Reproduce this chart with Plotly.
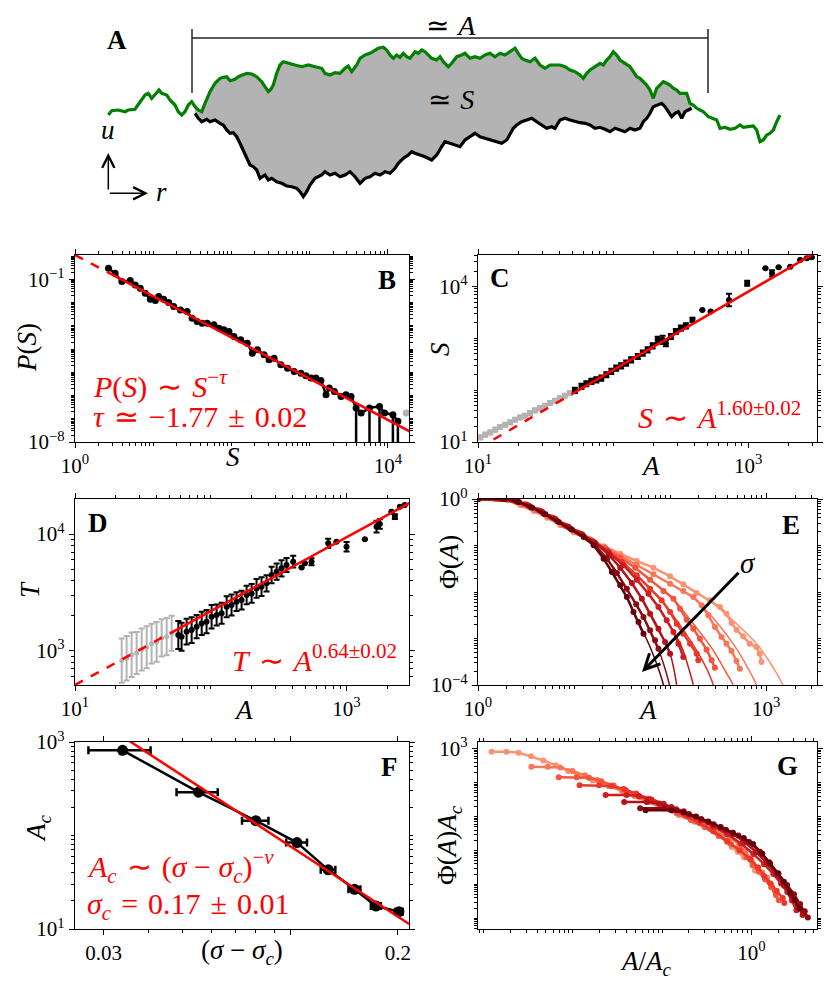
import math
import numpy as np
import plotly.graph_objects as go

W, H = 831, 993
FONT = "Liberation Serif"

# ---------------- Panel A : interface profiles (read in picture units) ----------------
green_x = [108.3,111.7,118.3,125,128.3,135,136.7,140,145,148.3,151.7,156.7,159,161.7,166.7,170,175,178.3,181.7,185,188.3,191.7,195,198.3,201.7,205,210,215,220,223.3,226.7,230,235,238.3,241.7,246.7,251.7,256.7,261.7,265,268.3,271,273.3,276.7,280,283.3,288.3,295,301.7,308.3,315,321.7,
           325,330,335,340,345,348.3,351.7,356.7,360,365,370,375,378.3,383.3,386.7,390,393.3,396.7,400,403.3,406.7,410,415,418.3,421.7,425,428.3,431.7,436.7,440,443.3,448.3,451.7,456.7,461.7,465,470,475,480,485,490,495,500,505,510,515,518.3,521.7,525,530,535,540,545,550,
           555,560,565,570,575,580,583.3,586.7,590,595,600,603.3,606.7,610,613.3,616.7,620,625,630,633.3,636.7,640,643.3,646.7,650,653.3,656.7,660,663.3,666.7,670,673.3,676.7,680,683.3,686.7,688.3,690,693.3,696.7,700,703.3,708.3,713.3,716.7,720,725,730,735,740,743.3,748.3,753.3,756.7,760,763.3,766.7,770,773.3,776.7,780]
green_y = [115,110.7,110,111.7,110,109.3,106.7,101.7,95,93.3,98.3,92.7,90,93.3,95,100,105,111.7,115,111.7,105,101.7,106.7,110,111.7,103.3,91.7,83.3,78.3,77.3,76.7,80.7,79.3,76.7,75,73.3,74,76.7,81.7,86.7,91.7,89.3,85,73.3,65,61.7,63.3,65,66.7,65,66.7,68.3,
           73.3,75,72.7,73.3,68.3,66,71.7,65,58.3,55,53.3,50,48.3,47.3,50,55,58.3,55,57.3,53.3,56.7,58.3,51.7,53.3,50,51.7,55,58.3,60,56.7,61.7,66.7,63.3,56.7,55,53.3,58.3,56.7,58.3,55,53.3,56.7,53.3,55,51.7,48.3,53.3,58.3,60,61.7,58.3,65,68.3,65,
           65,65,66.7,70,71.7,75,78.3,73.3,70,66.7,63.3,65,60,56.7,51.7,55,60,63.3,66.7,71.7,76.7,78.3,81.7,85,90,98.3,88.3,85,81.7,83.3,85,88.3,90,93.3,93.3,93.3,98.3,103.3,105,108.3,110,111.7,116.7,118.3,120,128.3,127.3,129.3,128.3,125,127.3,126.7,126,130,141.7,140,135,133.3,130,121.7,115]
black_x = [195,198.3,201.7,206.7,210,215,220,223.3,226.7,230,233.3,236.7,240,243.3,246.7,250,253.3,256.7,260,265,268.3,271.7,276.7,281.7,286.7,291.7,296.7,300,303.3,306.7,310,315,321.7,
           325,330,335,340,345,350,355,360,365,370,375,380,385,390,395,398.3,403.3,408.3,411.7,415,420,425,431.7,436.7,441.7,445,450,455,460,465,470,475,480,485,490,495,501.7,506.7,510,513.3,516.7,521.7,526.7,531.7,536.7,541.7,546.7,551.7,
           555,560,565,570,575,580,585,590,595,600,605,610,615,620,625,630,635,640,643.3,646.7,650,653.3,656.7,661.7,665,668.3,671.7,675,678.3,681.7,685,688.3,691.7]
black_y = [113.3,118.3,121.7,119.3,121.7,120,123.3,125,130,133.3,132.7,136.7,143.3,150,158.3,165,166.7,170,178.3,175,180,178.3,181.7,183.3,186,186.7,188.3,191.7,196.7,191.7,185,178.3,175,
           171.7,175,173.3,176.7,175,171.7,176.7,183.3,178.3,176.7,173.3,175,171.7,173.3,168.3,163.3,158.3,155,151.7,153.3,155,156.7,160,155,146.7,141.7,143.3,145,146.7,140,136.7,133.3,136.7,138.3,140,141.7,143.3,140,133.3,128.3,125,121.7,120,118.3,121.7,125,128.3,126.7,
           128.3,120,118.3,120,121.7,122.7,123.3,125,128.3,127.3,129.3,131.7,128.3,130,131.7,128.3,130,128.3,121.7,118.3,113.3,106.7,105,103.3,106.7,111.7,116.7,113.3,111.7,118.3,111.7,110,108.3]
bracket_x = [192, 708]
bracket_y = [29, 38, 93]   # top of ends, bar level, bottom of ends

# ---------------- Panel B : P(S) ----------------
b_logS = [0.428,0.513,0.599,0.706,0.770,0.834,0.898,0.963,1.027,1.070,1.134,1.198,1.262,1.348,1.433,1.497,1.561,1.626,1.690,1.775,1.840,1.904,1.968,2.032,2.118,2.203,2.267,2.332,2.417,2.481,2.545,2.631,2.717,2.802,2.888,2.952,3.016,3.080,3.144,3.209,3.251,3.316,3.401,3.465,3.529,3.594,3.658,3.765,3.893,3.957,4.064,4.128]
b_logP = [-0.528,-0.742,-1.100,-1.057,-1.243,-1.386,-1.601,-1.859,-1.916,-1.744,-1.859,-2.002,-2.174,-2.317,-2.389,-2.675,-2.818,-2.889,-2.889,-2.961,-3.104,-3.176,-3.247,-3.462,-3.605,-3.748,-4.178,-4.035,-4.249,-4.464,-4.392,-4.679,-4.822,-4.965,-5.037,-5.151,-5.251,-5.251,-5.352,-5.967,-5.681,-5.824,-6.039,-5.967,-6.039,-6.540,-6.754,-6.540,-6.468,-6.754,-6.826,-7.112]
b_err_dex = [0]*45 + [4,0,4,4,0,4,4]
b_gray_logS = [4.235]
b_gray_logP = [-6.754]
b_fit_logamp, b_tau = 0.045, 1.773

# ---------------- Panel C : S vs A ----------------
c_logA = [1.717,1.766,1.802,1.839,1.876,1.913,1.950,1.987,2.023,2.060,2.097,2.134,2.183,2.220,2.256,2.293,2.330,2.367,2.391,2.428,2.465,2.502,2.539,2.588,2.661,2.723,2.858,2.993,3.128,3.177,3.226,3.312,3.385,3.434,3.471]
c_logS = [1.996,2.073,2.124,2.169,2.201,2.233,2.298,2.362,2.426,2.471,2.522,2.587,2.651,2.715,2.779,2.857,2.972,2.972,2.908,3.036,3.133,3.197,3.242,3.358,3.550,3.518,3.743,4.064,4.353,4.257,4.373,4.385,4.514,4.546,4.565]
c_err_dex = [0.05]*16 + [0.06,0.08,0.06,0.05,0.05,0.05,0.05,0.04,0,0,0.12,0.05,0,0.06,0,0,0,0,0]
c_gray_logA = [1.017,1.054,1.091,1.128,1.164,1.201,1.238,1.275,1.312,1.348,1.385,1.422,1.459,1.496,1.533,1.570,1.606,1.643,1.680]
c_gray_logS = [1.090,1.141,1.186,1.238,1.289,1.334,1.379,1.430,1.475,1.507,1.559,1.610,1.655,1.700,1.752,1.797,1.848,1.893,1.944]
c_gray_err_dex = [0.04]*19
c_fit_logamp, c_exp = -0.639, 1.513

# ---------------- Panel D : T vs A ----------------
d_logA = [1.761,1.785,1.822,1.859,1.896,1.933,1.969,2.006,2.043,2.080,2.117,2.153,2.190,2.227,2.264,2.301,2.337,2.374,2.411,2.448,2.485,2.521,2.558,2.607,2.669,2.693,2.742,2.865,2.926,3.000,3.135,3.221,3.245,3.331,3.356,3.393,3.429]
d_logT = [3.134,3.120,3.163,3.177,3.206,3.234,3.249,3.291,3.306,3.320,3.377,3.391,3.420,3.434,3.477,3.491,3.534,3.549,3.577,3.649,3.677,3.706,3.734,3.763,3.714,3.749,3.763,3.920,3.934,3.891,3.954,4.063,4.086,4.191,4.149,4.234,4.249]
d_err_dex = [0.12,0.12,0.11,0.11,0.10,0.10,0.10,0.10,0.09,0.09,0.09,0.09,0.08,0.08,0.08,0.08,0.08,0.08,0.07,0.07,0.07,0.07,0.06,0.05,0,0,0.03,0.04,0,0.04,0,0.05,0.04,0,0.02,0,0]
d_gray_logA = [1.344,1.380,1.417,1.454,1.491,1.528,1.564,1.601,1.638,1.675,1.712]
d_gray_logT = [2.915,2.935,2.965,2.980,3.010,3.030,3.060,3.075,3.110,3.120,3.150]
d_gray_err_dex = [0.19,0.19,0.19,0.18,0.18,0.18,0.17,0.17,0.16,0.16,0.15]
d_fit_logamp, d_exp = 2.073, 0.633

# ---------------- Panel E : Phi(A) for increasing sigma ----------------
e_logA = [
    [0,0.166,0.305,0.443,0.581,0.720,0.858,0.997,1.135,1.308,1.481,1.654,1.827,2.000,2.138,2.277,2.415,2.519,2.588,2.640,2.692,2.761,2.830,2.900,2.934,2.952],
    [0,0.183,0.322,0.460,0.599,0.737,0.875,1.014,1.152,1.308,1.481,1.654,1.827,2.000,2.138,2.242,2.329,2.398,2.467,2.536,2.588,2.640,2.692,2.727],
    [0,0.201,0.339,0.478,0.616,0.754,0.893,1.031,1.170,1.325,1.481,1.637,1.792,1.931,2.035,2.104,2.173,2.242,2.311,2.381,2.433,2.467],
    [0,0.218,0.356,0.495,0.633,0.772,0.910,1.048,1.187,1.343,1.498,1.654,1.792,1.913,2.000,2.069,2.138,2.208,2.277,2.294],
    [0,0.235,0.374,0.512,0.651,0.789,0.927,1.066,1.204,1.360,1.516,1.654,1.775,1.879,1.965,2.035,2.087,2.138],
    [0,0.253,0.391,0.529,0.668,0.806,0.945,1.083,1.221,1.360,1.481,1.602,1.706,1.792,1.879,1.948,2.000],
    [0,0.270,0.408,0.547,0.685,0.824,0.962,1.100,1.221,1.343,1.446,1.550,1.647,1.723,1.792,1.844,1.879],
    [0,0.287,0.426,0.564,0.702,0.841,0.979,1.100,1.204,1.308,1.394,1.481,1.550,1.619,1.671,1.723],
]
e_logPhi = [
    [0,0,-0.029,-0.136,-0.258,-0.401,-0.566,-0.717,-0.846,-1.018,-1.176,-1.333,-1.477,-1.663,-1.835,-2.022,-2.179,-2.323,-2.466,-2.667,-2.810,-2.953,-3.111,-3.183,-3.326,-3.505],
    [0,0,-0.022,-0.122,-0.244,-0.387,-0.552,-0.703,-0.860,-1.032,-1.219,-1.419,-1.620,-1.821,-1.978,-2.108,-2.287,-2.502,-2.753,-2.968,-3.111,-3.269,-3.484,-3.649],
    [0,0,-0.014,-0.115,-0.244,-0.387,-0.559,-0.717,-0.875,-1.061,-1.262,-1.477,-1.735,-1.978,-2.143,-2.358,-2.595,-2.789,-3.004,-3.240,-3.470,-3.627],
    [0,0,-0.022,-0.115,-0.244,-0.401,-0.573,-0.731,-0.896,-1.104,-1.355,-1.642,-1.928,-2.179,-2.430,-2.681,-2.896,-3.111,-3.326,-3.470],
    [0,0,-0.029,-0.129,-0.258,-0.416,-0.588,-0.746,-0.918,-1.147,-1.427,-1.735,-2.036,-2.323,-2.609,-2.860,-3.111,-3.398],
    [0,0,-0.043,-0.143,-0.272,-0.430,-0.602,-0.760,-0.946,-1.190,-1.477,-1.806,-2.143,-2.466,-2.789,-3.075,-3.326],
    [0,0,-0.057,-0.172,-0.315,-0.473,-0.638,-0.803,-0.996,-1.283,-1.591,-1.928,-2.265,-2.538,-2.824,-3.039,-3.219],
    [0,0,-0.065,-0.186,-0.330,-0.495,-0.660,-0.817,-0.996,-1.283,-1.570,-1.857,-2.108,-2.430,-2.645,-2.896],
]
e_fit_logA = [
    [2.415,2.692,2.900,3.038,3.176,3.228],
    [2.242,2.484,2.692,2.813,2.900,2.934],
    [2.035,2.242,2.450,2.571,2.657,2.692],
    [1.913,2.104,2.277,2.381,2.450,2.478],
    [1.775,1.965,2.121,2.190,2.242,2.266],
    [1.706,1.879,2.000,2.042,2.069,2.087],
    [1.647,1.792,1.896,1.958,1.993,2.010],
    [1.550,1.671,1.792,1.879,1.931,1.948],
]
e_fit_logPhi = [
    [-2.179,-2.681,-3.111,-3.505,-4.0,-4.258],
    [-2.108,-2.645,-3.219,-3.649,-4.0,-4.258],
    [-2.143,-2.681,-3.254,-3.685,-4.0,-4.258],
    [-2.179,-2.717,-3.254,-3.649,-4.0,-4.258],
    [-2.036,-2.609,-3.183,-3.613,-4.0,-4.258],
    [-2.143,-2.789,-3.326,-3.685,-4.0,-4.258],
    [-2.265,-2.824,-3.326,-3.720,-4.0,-4.258],
    [-2.108,-2.645,-3.183,-3.649,-4.0,-4.258],
]
sigma_colors = ["#fc9272", "#fb7656", "#f5553c", "#e8382a", "#cf1c1f", "#b31218", "#8d0b12", "#67000d"]

# ---------------- Panel F : A_c vs (sigma - sigma_c) ----------------
f_dsigma = [0.0339, 0.0553, 0.0800, 0.1043, 0.1276, 0.1512, 0.1736, 0.2013]
f_Ac = [815, 291, 144, 84, 42.9, 26.6, 17.6, 15.3]
f_xerr = [0.0067, 0.0073, 0.0068, 0.0070, 0.0060, 0.0058, 0.0056, 0.0050]
f_fit_logamp, f_nu = -0.616, 2.5

# ---------------- layout geometry (pixels) ----------------
COLX = {"L": (75, 409), "R": (478, 817)}
ROWY = {1: (255, 442), 2: (499, 685), 3: (742, 929)}


def xdom(c):
    a, b = COLX[c]
    return [a / W, b / W]


def ydom(r):
    t, b = ROWY[r]
    return [1 - b / H, 1 - t / H]


def decade_vals(lo, hi, digits):
    out = []
    for k in range(math.floor(lo) - 1, math.ceil(hi) + 1):
        for d in digits:
            v = d * 10.0 ** k
            if lo - 1e-9 <= math.log10(v) <= hi + 1e-9:
                out.append(v)
    return out


def sup_label(v):
    k = int(round(math.log10(v)))
    s = str(k).replace("-", "\u2212")
    return "10<sup>%s</sup>" % s


def log_axis(dom, rng, labeled, anchor, ticktext=None, minors=None):
    if ticktext is None:
        ticktext = [sup_label(v) for v in labeled]
    if minors is None:
        minors = decade_vals(rng[0], rng[1], range(1, 10))
        minors = [m for m in minors if not any(abs(m / l - 1) < 1e-9 for l in labeled)]
    return dict(type="log", domain=dom, range=list(rng), anchor=anchor, automargin=False,
                tickmode="array", tickvals=labeled, ticktext=ticktext,
                ticks="outside", ticklen=5, tickwidth=1, tickcolor="black",
                minor=dict(tickmode="array", tickvals=minors, ticks="outside",
                           ticklen=3, tickwidth=0.8, tickcolor="black", showgrid=False),
                showline=True, linecolor="black", linewidth=1.2, mirror="allticks",
                showgrid=False, zeroline=False,
                tickfont=dict(family=FONT, size=21, color="black"))


def pw(lst):
    return [10.0 ** v for v in lst]


def err_arrays(vals_log, dex):
    plus = [10 ** v * (10 ** e - 1) for v, e in zip(vals_log, dex)]
    minus = [10 ** v * (1 - 10 ** (-e)) for v, e in zip(vals_log, dex)]
    return plus, minus


fig = go.Figure()
RED = "#ff0000"
GRAY = "#b3b3b3"

# ---------------- Panel A traces ----------------
fill_x = [x for x in green_x if 195 <= x <= 691.7]
fill_y = [y for x, y in zip(green_x, green_y) if 195 <= x <= 691.7]
fill_x += black_x[::-1]
fill_y += black_y[::-1]
fig.add_trace(go.Scatter(x=fill_x, y=fill_y, fill="toself", fillcolor="#b3b3b3", mode="lines",
                         line=dict(width=0, color="#b3b3b3"), xaxis="x7", yaxis="y7", hoverinfo="skip"))
fig.add_trace(go.Scatter(x=black_x, y=black_y, mode="lines", line=dict(color="black", width=3.2),
                         xaxis="x7", yaxis="y7"))
fig.add_trace(go.Scatter(x=green_x, y=green_y, mode="lines", line=dict(color="#008000", width=3.2),
                         xaxis="x7", yaxis="y7"))
bx0, bx1 = bracket_x
byt, byb, byd = bracket_y
fig.add_trace(go.Scatter(x=[bx0, bx0, None, bx0, bx1, None, bx1, bx1],
                         y=[byt, byd, None, byb, byb, None, byt, byd],
                         mode="lines", line=dict(color="#222222", width=1.5), xaxis="x7", yaxis="y7"))

# ---------------- Panel B traces ----------------
bS, bP = pw(b_logS), pw(b_logP)
b_minus = [p * (1 - 10 ** (-e)) for p, e in zip(bP, b_err_dex)]
fig.add_trace(go.Scatter(x=bS, y=bP, mode="lines+markers", line=dict(color="black", width=2.5),
                         marker=dict(color="black", size=7),
                         error_y=dict(type="data", symmetric=False, array=[0] * len(bP), arrayminus=b_minus,
                                      color="black", thickness=2.5, width=0),
                         xaxis="x", yaxis="y"))
fig.add_trace(go.Scatter(x=pw(b_gray_logS), y=pw(b_gray_logP), mode="markers",
                         marker=dict(color=GRAY, size=7), xaxis="x", yaxis="y"))
s_dash = np.logspace(0, 0.41, 10)
s_sol = np.logspace(0.41, 4.3, 30)
fig.add_trace(go.Scatter(x=s_dash, y=10 ** b_fit_logamp * s_dash ** (-b_tau), mode="lines",
                         line=dict(color=RED, width=2.5, dash="dash"), xaxis="x", yaxis="y"))
fig.add_trace(go.Scatter(x=s_sol, y=10 ** b_fit_logamp * s_sol ** (-b_tau), mode="lines",
                         line=dict(color=RED, width=2.5), xaxis="x", yaxis="y"))

# ---------------- Panel C traces ----------------
gp, gm = err_arrays(c_gray_logS, c_gray_err_dex)
fig.add_trace(go.Scatter(x=pw(c_gray_logA), y=pw(c_gray_logS), mode="markers",
                         marker=dict(color=GRAY, size=6),
                         error_y=dict(type="data", symmetric=False, array=gp, arrayminus=gm,
                                      color=GRAY, thickness=2, width=3),
                         xaxis="x2", yaxis="y2"))
cp, cm = err_arrays(c_logS, c_err_dex)
fig.add_trace(go.Scatter(x=pw(c_logA), y=pw(c_logS), mode="markers",
                         marker=dict(color="black", size=6),
                         error_y=dict(type="data", symmetric=False, array=cp, arrayminus=cm,
                                      color="black", thickness=2, width=3),
                         xaxis="x2", yaxis="y2"))
a_dash = np.logspace(1.0, 1.70, 10)
a_sol = np.logspace(1.70, 3.55, 30)
fig.add_trace(go.Scatter(x=a_dash, y=10 ** c_fit_logamp * a_dash ** c_exp, mode="lines",
                         line=dict(color=RED, width=2.5, dash="dash"), xaxis="x2", yaxis="y2"))
fig.add_trace(go.Scatter(x=a_sol, y=10 ** c_fit_logamp * a_sol ** c_exp, mode="lines",
                         line=dict(color=RED, width=2.5), xaxis="x2", yaxis="y2"))

# ---------------- Panel D traces ----------------
gp, gm = err_arrays(d_gray_logT, d_gray_err_dex)
fig.add_trace(go.Scatter(x=pw(d_gray_logA), y=pw(d_gray_logT), mode="markers",
                         marker=dict(color=GRAY, size=5),
                         error_y=dict(type="data", symmetric=False, array=gp, arrayminus=gm,
                                      color=GRAY, thickness=2, width=3),
                         xaxis="x3", yaxis="y3"))
dp, dm = err_arrays(d_logT, d_err_dex)
fig.add_trace(go.Scatter(x=pw(d_logA), y=pw(d_logT), mode="markers",
                         marker=dict(color="black", size=6),
                         error_y=dict(type="data", symmetric=False, array=dp, arrayminus=dm,
                                      color="black", thickness=2, width=3),
                         xaxis="x3", yaxis="y3"))
a_dash = np.logspace(1.0, 1.70, 10)
a_sol = np.logspace(1.70, 3.5, 30)
fig.add_trace(go.Scatter(x=a_dash, y=10 ** d_fit_logamp * a_dash ** d_exp, mode="lines",
                         line=dict(color=RED, width=2.5, dash="dash"), xaxis="x3", yaxis="y3"))
fig.add_trace(go.Scatter(x=a_sol, y=10 ** d_fit_logamp * a_sol ** d_exp, mode="lines",
                         line=dict(color=RED, width=2.5), xaxis="x3", yaxis="y3"))

# ---------------- Panel E & G traces ----------------
for i in range(len(e_logA)):
    col = sigma_colors[i]
    fig.add_trace(go.Scatter(x=pw(e_fit_logA[i]), y=pw(e_fit_logPhi[i]), mode="lines",
                             line=dict(color=col, width=1.5, shape="spline"), xaxis="x4", yaxis="y4"))
    fig.add_trace(go.Scatter(x=pw(e_logA[i]), y=pw(e_logPhi[i]), mode="lines+markers",
                             line=dict(color=col, width=2.5), marker=dict(color=col, size=6),
                             xaxis="x4", yaxis="y4"))
for i in range(len(e_logA)):
    col = sigma_colors[i]
    lac = math.log10(f_Ac[i])
    gx = [10 ** (a - lac) for a in e_logA[i]]
    gy = [10 ** (p + lac) for p in e_logPhi[i]]
    fig.add_trace(go.Scatter(x=gx, y=gy, mode="lines+markers",
                             line=dict(color=col, width=2.5), marker=dict(color=col, size=6),
                             xaxis="x6", yaxis="y6"))

# ---------------- Panel F traces ----------------
fig.add_trace(go.Scatter(x=f_dsigma, y=f_Ac, mode="lines+markers",
                         line=dict(color="black", width=2.5), marker=dict(color="black", size=11),
                         error_x=dict(type="data", array=f_xerr, color="black", thickness=2.5, width=4),
                         xaxis="x5", yaxis="y5"))
ds = np.logspace(math.log10(0.032), math.log10(0.215), 20)
fig.add_trace(go.Scatter(x=ds, y=10 ** f_fit_logamp * ds ** (-f_nu), mode="lines",
                         line=dict(color=RED, width=2.5), xaxis="x5", yaxis="y5"))

# ---------------- axes ----------------
layout = dict(
    width=W, height=H, margin=dict(l=0, r=0, t=0, b=0, autoexpand=False),
    paper_bgcolor="white", plot_bgcolor="white", showlegend=False,
    xaxis=log_axis(xdom("L"), (0, 4.27), [1, 1e4], "y"),
    yaxis=log_axis(ydom(1), (-8, 0.045), [1e-1, 1e-8], "x"),
    xaxis2=log_axis(xdom("R"), (1, 3.51), [1e1, 1e3], "y2"),
    yaxis2=log_axis(ydom(1), (1, 4.61), [1e1, 1e4], "x2"),
    xaxis3=log_axis(xdom("L"), (1, 3.46), [1e1, 1e3], "y3"),
    yaxis3=log_axis(ydom(2), (2.706, 4.30), [1e3, 1e4], "x3"),
    xaxis4=log_axis(xdom("R"), (0, 3.53), [1, 1e3], "y4"),
    yaxis4=log_axis(ydom(2), (-4, 0), [1, 1e-4], "x4"),
    xaxis5=log_axis(xdom("L"), (-1.603, -0.668), [0.03, 0.1, 0.2], "y5",
                    ticktext=["0.03", " ", "0.2"],
                    minors=[0.04, 0.05, 0.06, 0.07, 0.08, 0.09]),
    yaxis5=log_axis(ydom(3), (1, 3), [1e1, 1e3], "x5"),
    xaxis6=log_axis(xdom("R"), (-3.063, 0.736), [1], "y6"),
    yaxis6=log_axis(ydom(3), (-2.315, 3.197), [1e3], "x6"),
    xaxis7=dict(domain=[0, 1], range=[0, W], visible=False, anchor="y7", automargin=False),
    yaxis7=dict(domain=[1 - 215 / H, 1], range=[215, 0], visible=False, anchor="x7", automargin=False),
)
fig.update_layout(**layout)


def ann(text, px, py, size=24, color="black", xanchor="center", angle=0):
    return dict(text=text, x=px / W, y=1 - py / H, xref="paper", yref="paper", showarrow=False,
                font=dict(family=FONT, size=size, color=color), xanchor=xanchor, yanchor="middle",
                textangle=angle)


SP = "\u2004"  # three-per-em space, mimics TeX spacing around relations
RS = 30        # size of the red fit labels
anns = [
    # panel A
    ann("<b>A</b>", 117, 40, 27),
    ann("\u2243" + SP + "<i>A</i>", 451, 25, 28),
    ann("\u2243" + SP + "<i>S</i>", 451, 100, 28),
    ann("<i>u</i>", 108, 130, 27),
    ann("<i>r</i>", 161, 192, 27),
    # panel B
    ann("<b>B</b>", 387, 280, 27),
    ann("<i>P</i>(<i>S</i>)", 27, 347, 27, angle=-90),
    ann("<i>S</i>", 233, 457, 27),
    ann("<i>P</i>(<i>S</i>)" + SP + "\u223c" + SP + "<i>S</i><sup>\u2212<i>\u03c4</i></sup>", 91, 384, RS, RED, "left"),
    ann("<i>\u03c4</i>" + SP + "\u2243" + SP + "\u22121.77" + SP + "\u00b1" + SP + "0.02", 91, 416, RS, RED, "left"),
    # panel C
    ann("<b>C</b>", 500, 278, 27),
    ann("<i>S</i>", 440, 349, 27, angle=-90),
    ann("<i>A</i>", 650, 466, 27),
    ann("<i>S</i>" + SP + "\u223c" + SP + "<i>A</i><sup>1.60\u00b10.02</sup>", 803, 415, RS, RED, "right"),
    # panel D
    ann("<b>D</b>", 98, 523, 27),
    ann("<i>T</i>", 30, 590, 27, angle=-90),
    ann("<i>A</i>", 243, 710, 27),
    ann("<i>T</i>" + SP + "\u223c" + SP + "<i>A</i><sup>0.64\u00b10.02</sup>", 399, 658, RS, RED, "right"),
    # panel E
    ann("<b>E</b>", 791, 525, 27),
    ann("\u03a6(<i>A</i>)", 449, 562, 27, angle=-90),
    ann("<i>A</i>", 647, 710, 27),
    # panel F
    ann("<b>F</b>", 389, 767, 27),
    ann("<i>A</i><sub><i>c</i></sub>", 38, 828, 27, angle=-90),
    ann("(<i>\u03c3</i> \u2212 <i>\u03c3</i><sub><i>c</i></sub>)", 242, 952, 27),
    ann("<i>A</i><sub><i>c</i></sub>" + SP + "\u223c" + SP + "(<i>\u03c3</i> \u2212 <i>\u03c3</i><sub><i>c</i></sub>)<sup>\u2212<i>\u03bd</i></sup>", 85, 866, RS, RED, "left"),
    ann("<i>\u03c3</i><sub><i>c</i></sub>" + SP + "=" + SP + "0.17" + SP + "\u00b1" + SP + "0.01", 85, 906, RS, RED, "left"),
    # panel G
    ann("<b>G</b>", 787, 766, 27),
    ann("\u03a6(<i>A</i>)<i>A</i><sub><i>c</i></sub>", 449, 845, 27, angle=-90),
    ann("<i>A</i>/<i>A</i><sub><i>c</i></sub>", 646, 963, 27),
]


def arrow(hx, hy, tx, ty, width, head, size, text=""):
    return dict(text=text, x=hx / W, y=1 - hy / H, xref="paper", yref="paper",
                ax=tx - hx, ay=ty - hy, axref="pixel", ayref="pixel", showarrow=True,
                arrowhead=head, arrowsize=size, arrowwidth=width, arrowcolor="black",
                standoff=0, startstandoff=0, font=dict(family=FONT, size=29, color="black"))


anns += [
    arrow(108.3, 153, 108.3, 191, 1.5, 5, 1.6),
    arrow(148, 193.3, 108.3, 193.3, 1.5, 5, 1.6),
    arrow(642, 672, 748, 563, 3, 5, 1.0, "<i>\u03c3</i>"),
]
fig.update_layout(annotations=anns)

fig.write_html("out.html", config={"displayModeBar": False},
               post_script="document.body.style.margin='0px';")
